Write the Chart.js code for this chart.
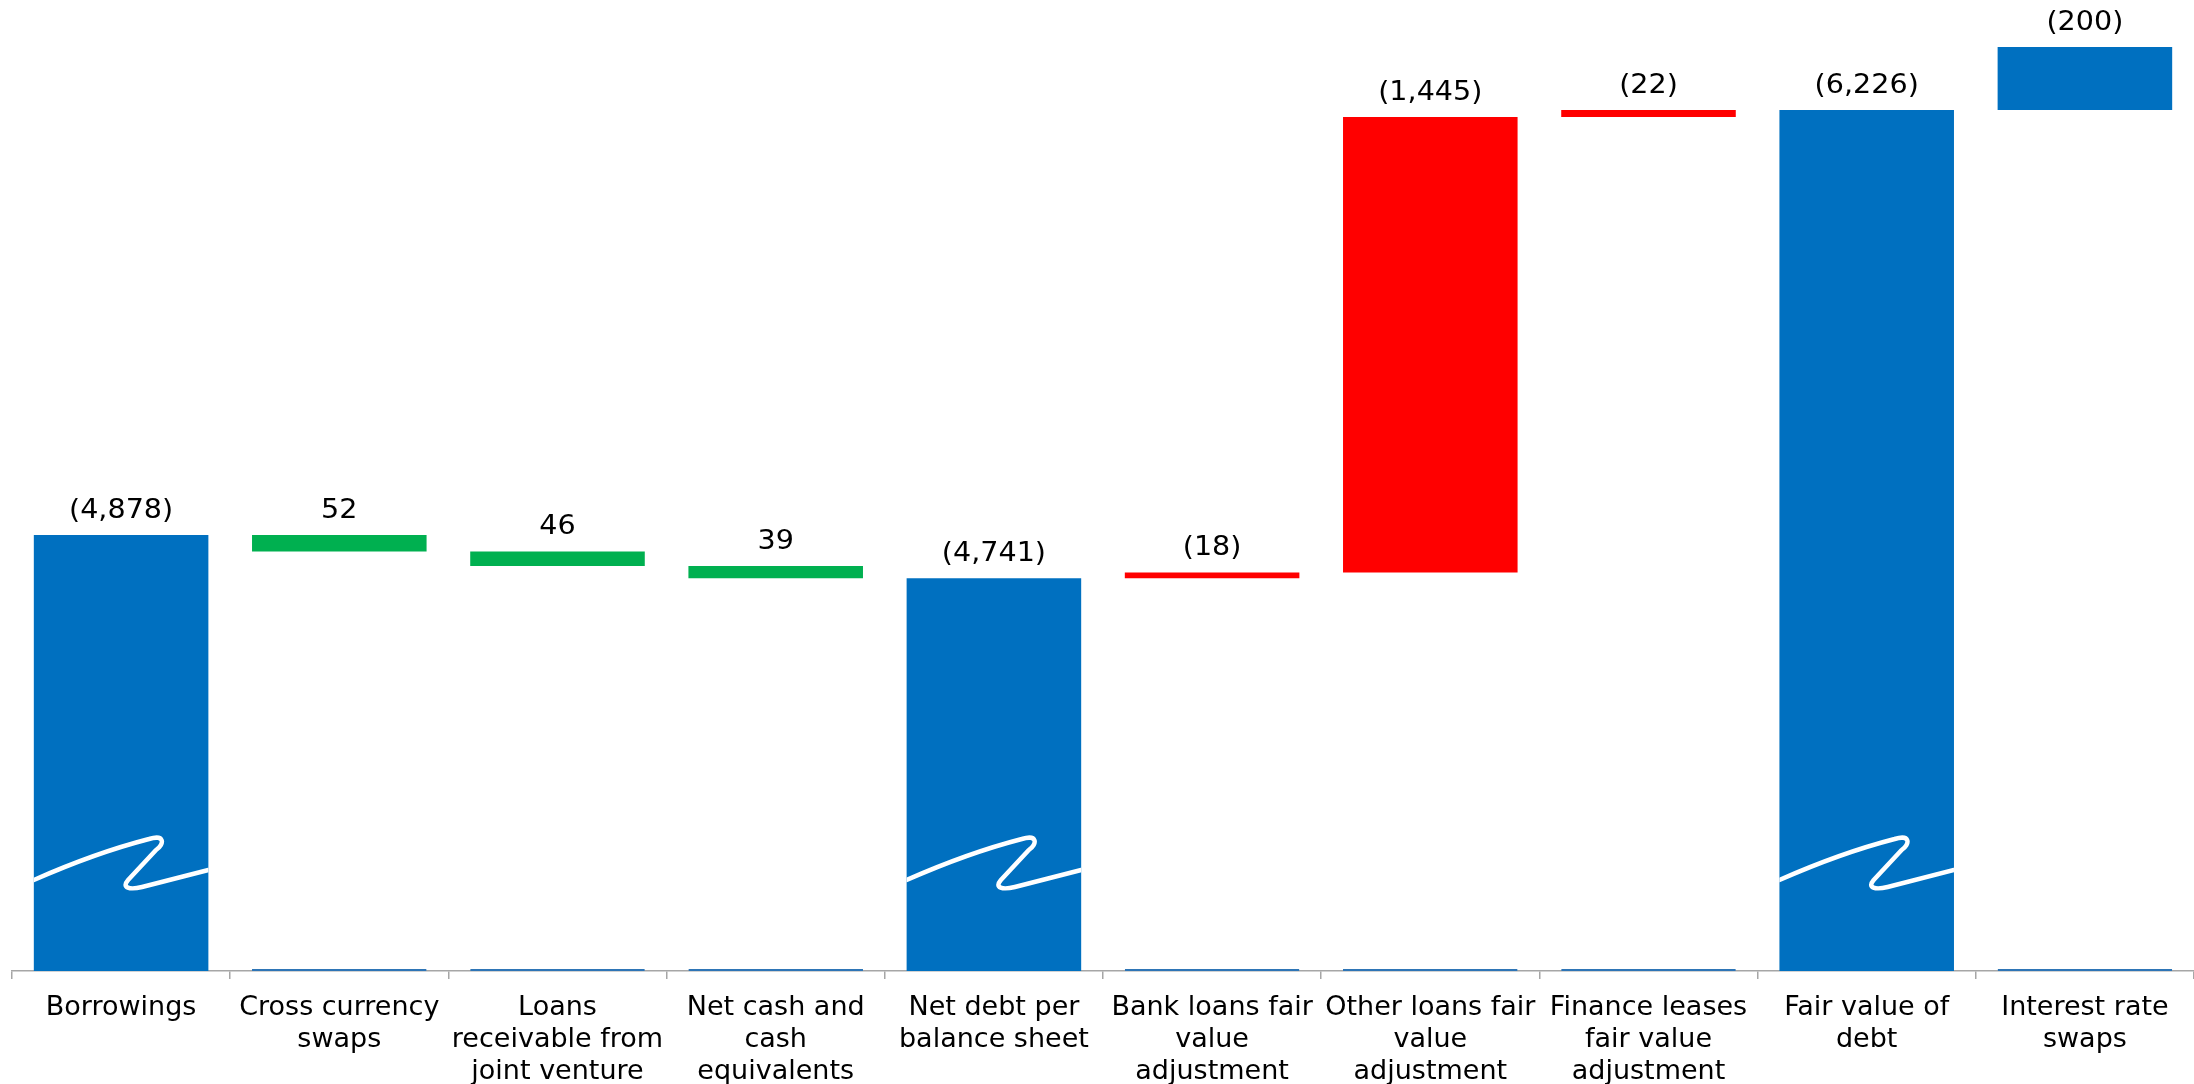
<!DOCTYPE html>
<html>
<head>
<meta charset="utf-8">
<script src="https://cdn.jsdelivr.net/npm/chart.js@4"></script>
<style>
  html, body { margin: 0; padding: 0; background: #fff; }
  #wrap { width: 2194px; height: 1084px; position: relative; }
</style>
</head>
<body>
<div id="wrap"><canvas id="bridgeChart"></canvas></div>
<script>
const categories = [
  ["Borrowings"],
  ["Cross currency", "swaps"],
  ["Loans", "receivable from", "joint venture"],
  ["Net cash and", "cash", "equivalents"],
  ["Net debt per", "balance sheet"],
  ["Bank loans fair", "value", "adjustment"],
  ["Other loans fair", "value", "adjustment"],
  ["Finance leases", "fair value", "adjustment"],
  ["Fair value of", "debt"],
  ["Interest rate", "swaps"],
];
// negative = shown in brackets
const amounts = [-4878, 52, 46, 39, -4741, -18, -1445, -22, -6226, -200];
const kinds = ["total", "change", "change", "change", "total", "change", "change", "change", "total", "change"];
const barColors = ["#0070C0", "#00B050", "#00B050", "#00B050", "#0070C0", "#FF0000", "#FF0000", "#FF0000", "#0070C0", "#0070C0"];

const Y_MIN = 3495; // broken axis, bars don't start from zero
const Y_MAX = 6575;

function fmt(v) {
  const s = Math.abs(v).toLocaleString("en-US");
  return v < 0 ? "(" + s + ")" : s;
}

// build the floating ranges for the waterfall
let level = 0;
const ranges = [];
const baseRanges = [];
amounts.forEach((amt, i) => {
  if (kinds[i] === "total") {
    level = -amt;
    ranges.push([0, level]);
    baseRanges.push(null);
  } else {
    const next = level - amt;
    ranges.push([level, next]);
    baseRanges.push([Y_MIN, Math.min(level, next)]);
    level = next;
  }
});

const valueLabels = {
  id: "valueLabels",
  afterDatasetsDraw(chart) {
    const ctx = chart.ctx;
    const meta = chart.getDatasetMeta(1);
    ctx.font = "26px 'DejaVu Sans'";
    ctx.fillStyle = "#000";
    ctx.textAlign = "center";
    ctx.textBaseline = "middle";
    meta.data.forEach((bar, i) => {
      const top = Math.min(bar.y, bar.base);
      ctx.save();
      ctx.translate(bar.x, top - 24);
      ctx.scale(1.1, 1);
      ctx.fillText(fmt(amounts[i]), 0, 0);
      ctx.restore();
    });
  },
};

// white squiggle showing the axis break on the total bars
const breakMarks = {
  id: "breakMarks",
  afterDatasetsDraw(chart) {
    const ctx = chart.ctx;
    const meta = chart.getDatasetMeta(1);
    const bottom = chart.chartArea.bottom;
    meta.data.forEach((bar, i) => {
      if (kinds[i] !== "total") return;
      const w = bar.width;
      const L = bar.x - w / 2;
      const R = bar.x + w / 2;
      const y = (off) => bottom - off;
      ctx.save();
      ctx.beginPath();
      ctx.rect(L, bar.y, w, bottom - bar.y);
      ctx.clip();
      ctx.beginPath();
      ctx.moveTo(L, y(91));
      ctx.quadraticCurveTo(L + 0.35 * w, y(118), L + 0.66 * w, y(132));
      ctx.bezierCurveTo(L + 0.75 * w, y(137), L + 0.75 * w, y(127), L + 0.7 * w, y(121));
      ctx.lineTo(L + 0.54 * w, y(91));
      ctx.bezierCurveTo(L + 0.5 * w, y(83), L + 0.55 * w, y(81), L + 0.62 * w, y(84));
      ctx.quadraticCurveTo(L + 0.8 * w, y(92), R, y(101));
      ctx.strokeStyle = "#fff";
      ctx.lineWidth = 4.5;
      ctx.lineCap = "round";
      ctx.lineJoin = "round";
      ctx.stroke();
      ctx.restore();
    });
  },
};

const ctx = document.getElementById("bridgeChart").getContext("2d");
new Chart(ctx, {
  type: "bar",
  data: {
    labels: categories,
    datasets: [
      {
        // leftover invisible base series, only its bottom edge shows
        data: baseRanges,
        backgroundColor: "rgba(0,0,0,0)",
        borderColor: "#2E75B6",
        borderWidth: { top: 0, right: 0, bottom: 2, left: 0 },
        borderSkipped: false,
        grouped: false,
        barPercentage: 1,
        categoryPercentage: 0.8,
      },
      {
        data: ranges,
        backgroundColor: barColors,
        borderWidth: 0,
        grouped: false,
        barPercentage: 1,
        categoryPercentage: 0.8,
      },
    ],
  },
  options: {
    responsive: true,
    maintainAspectRatio: false,
    animation: false,
    layout: { padding: { left: 12, right: -3, top: 0, bottom: 0 } },
    plugins: {
      legend: { display: false },
      tooltip: { enabled: false },
    },
    scales: {
      x: {
        grid: {
          offset: true,
          drawOnChartArea: false,
          tickLength: 8,
          color: "#a6a6a6",
          lineWidth: 1.5,
        },
        border: { color: "#a6a6a6", width: 1.5 },
        ticks: {
          color: "#000",
          font: { family: "DejaVu Sans", size: 27, lineHeight: 1.18 },
          maxRotation: 0,
          minRotation: 0,
          autoSkip: false,
          padding: 13,
        },
        afterFit(scale) {
          scale.height = 113;
        },
      },
      y: { display: false, min: Y_MIN, max: Y_MAX },
    },
  },
  plugins: [valueLabels, breakMarks],
});
</script>
</body>
</html>
